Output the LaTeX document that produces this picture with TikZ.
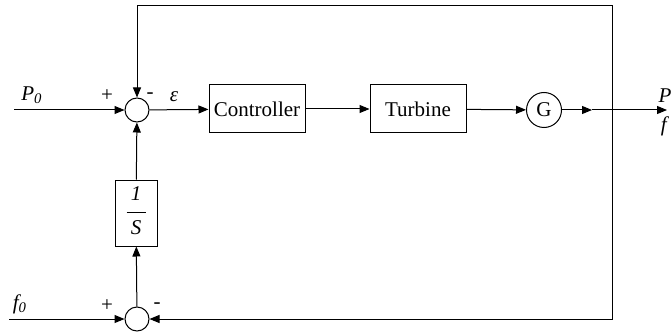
\documentclass[tikz,border=0pt]{standalone}
\usepackage{fontspec}
\setmainfont{Liberation Serif}
\usetikzlibrary{arrows.meta, positioning, calc}
\tikzset{
	block/.style={rectangle, draw, minimum width=48pt, minimum height=24pt, inner sep=2pt, line width=0.5pt},
	sum/.style={circle, draw, inner sep=0pt, minimum size=12pt, line width=0.5pt},
	line/.style={draw, line width=0.5pt, -{Triangle[length=5pt, width=4pt]}}
}

\begin{document}
\begin{tikzpicture}[
	% one unit is one pixel of the sketch
	x=0.5pt, y=-0.5pt,
	font=\fontsize{10.5}{12}\selectfont
	]
	\useasboundingbox (0,0) rectangle (672,331);
	
	% === NODES ===
	% Place the nodes for the diagram.
	
	\coordinate (inP) at (14,110);
	\node[sum] (sumP) at (137,110) {};
	\node[block] (ctrl) at (257,109) {Controller};
	\node[block] (turb) at (418,109) {Turbine};
	\node[sum, minimum size=17.5pt] (gen) at (544,110) {G};
	\coordinate (mid) at (592,110);
	\coordinate (split) at (612,110);
	\coordinate (out) at (667,110);
	\coordinate (topright) at (612,6);
	\coordinate (botright) at (612,319);
	\node[block, minimum width=21pt, minimum height=33pt, inner sep=0pt] (integ) at (136,213)
		{\begin{tabular}{@{}c@{}}\textit{1}\\[-3pt]\rule[3pt]{9.5pt}{0.5pt}\\[-4pt]\textit{S}\end{tabular}};
	\coordinate (inf) at (9,319);
	\node[sum] (sumf) at (137,319) {};
	
	% labels
	\node (lblP) at (32,95) {\textit{P\textsubscript{0}}};
	\node (lblf) at (20,304) {\textit{f\textsubscript{0}}};
	\node (lble) at (174,97) {\textit{ε}};
	\node (lblout) at (665,96) {\textit{P}};
	\node (lblfo) at (665,126) {\textit{f}};
	\node (plusP) at (107,96) {+};
	\node (minusP) at (150,96) {-};
	\node (plusf) at (107,306) {+};
	\node (minusf) at (157,306) {-};
	
	% === CONNECTIONS ===
	% Draw the lines and arrows connecting the nodes.
	
	\draw[line] (inP) -- (sumP);
	\draw[line] (sumP) -- (ctrl);
	\draw[line] (ctrl) -- (turb);
	\draw[line] (turb) -- (gen);
	\draw[line] (gen) -- (mid);
	\draw[line] (mid) -- (out);
	
	% Feedback Path
	\draw[line] (split) -- (topright) -| (sumP);
	\draw[line] (split) -- (botright) -- (sumf);
	\draw[line] (inf) -- (sumf);
	\draw[line] (sumf) -- (integ);
	\draw[line] (integ) -- (sumP);
\end{tikzpicture}
\end{document}
